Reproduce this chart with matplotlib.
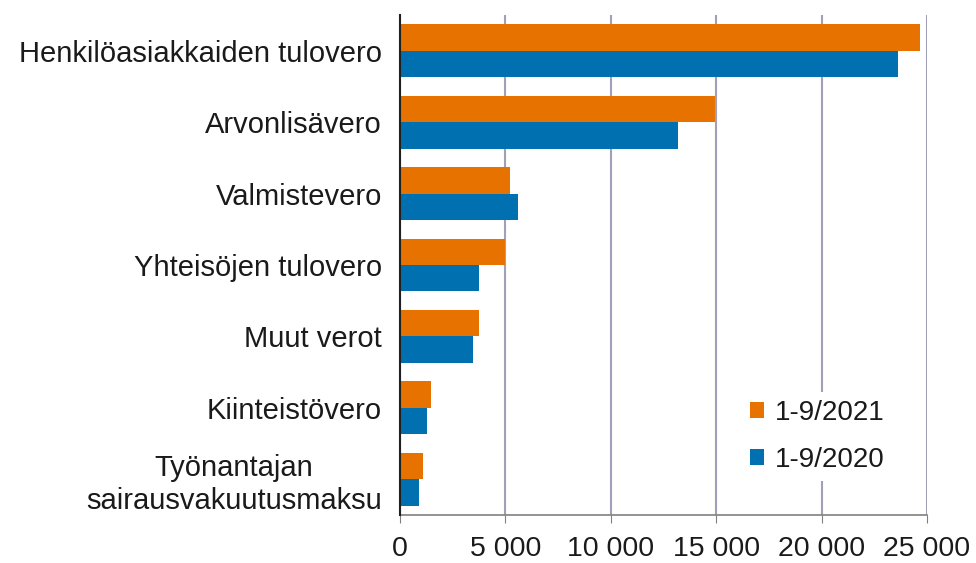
import numpy as np
import matplotlib.pyplot as plt
from matplotlib.ticker import FuncFormatter

plt.rcParams['font.family'] = ['Liberation Sans', 'DejaVu Sans']

categories = ['Henkilöasiakkaiden tulovero', 'Arvonlisävero', 'Valmistevero',
              'Yhteisöjen tulovero', 'Muut verot', 'Kiinteistövero',
              'Työnantajan\nsairausvakuutusmaksu']
values_2021 = [24670, 14920, 5230, 5000, 3740, 1470, 1090]
values_2020 = [23620, 13190, 5620, 3740, 3460, 1280, 890]
ticks = [0, 5000, 10000, 15000, 20000, 25000]

fig = plt.figure(figsize=(9.76, 5.63), dpi=100)
ax = fig.add_axes([400 / 976, 48 / 563, 527 / 976, 500 / 563])

y = np.arange(len(categories))
h = 0.37
ax.barh(y - h / 2, values_2021, height=h, color='#E87200', label='1-9/2021', zorder=3)
ax.barh(y + h / 2, values_2020, height=h, color='#0070B0', label='1-9/2020', zorder=3)

ax.set_ylim(len(categories) - 0.5, -0.5)
ax.set_xlim(0, 25000)
ax.set_yticks(y)
ax.set_yticklabels(categories, fontsize=21, color='#1A1A1A', multialignment='center')
ax.tick_params(axis='y', length=0, pad=13)
ax.set_xticks(ticks)
ax.xaxis.set_major_formatter(FuncFormatter(lambda v, p: f'{int(v):,}'.replace(',', ' ')))
ax.tick_params(axis='x', direction='out', length=6, color='#808080', labelsize=20.5,
               labelcolor='#1A1A1A', pad=9)

ax.grid(axis='x', color='#A0A0B8', linewidth=1.5, zorder=0)
for s in ['top', 'right']:
    ax.spines[s].set_visible(False)
ax.spines['left'].set_color('#202020')
ax.spines['left'].set_linewidth(1.5)
ax.spines['left'].set_zorder(4)
ax.spines['bottom'].set_color('#808080')
ax.spines['bottom'].set_linewidth(1.2)

leg = ax.legend(loc='lower right', bbox_to_anchor=(0.962, 0.04), frameon=True, fontsize=20,
                handlelength=0.5, handleheight=0.5, handletextpad=0.4, labelspacing=0.75,
                edgecolor='none', framealpha=1, borderpad=0.3)
for t in leg.get_texts():
    t.set_color('#1A1A1A')

fig.savefig('out.png', dpi=100)
